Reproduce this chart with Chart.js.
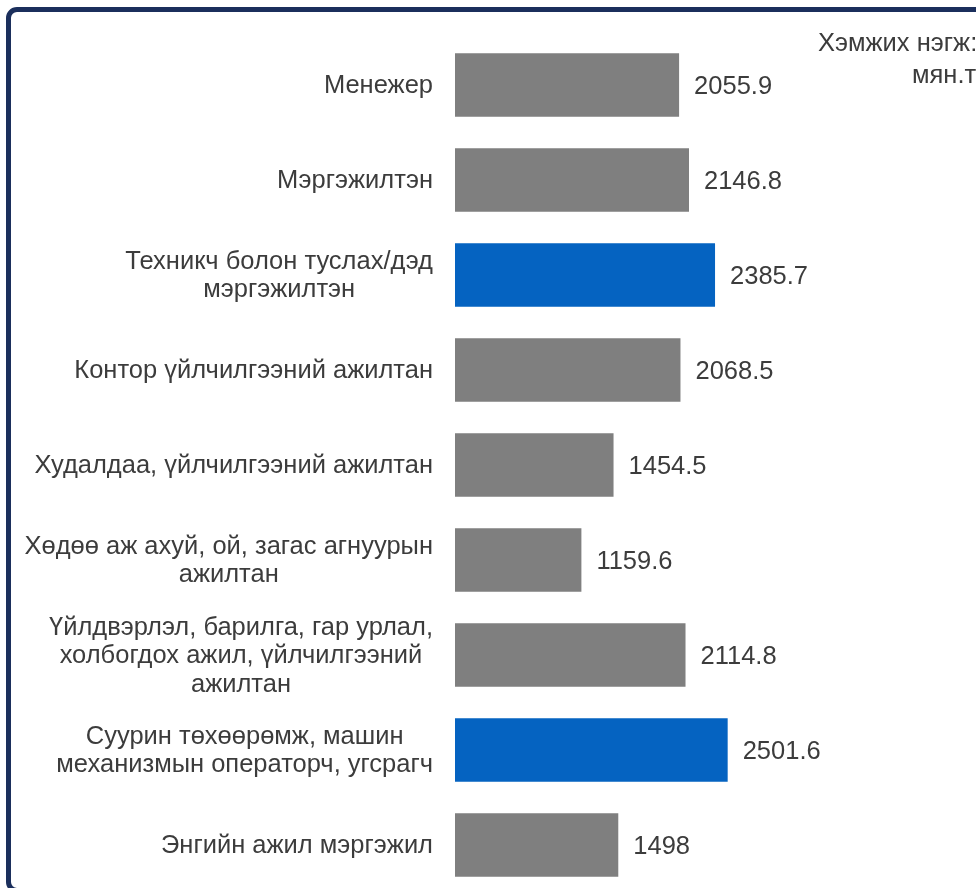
<!DOCTYPE html>
<html>
<head>
<meta charset="utf-8">
<script src="https://cdn.jsdelivr.net/npm/chart.js@4.4.1/dist/chart.umd.min.js"></script>
<style>
  html, body { margin: 0; padding: 0; background: #ffffff; overflow: hidden; width: 976px; height: 888px; }
  #wrap { position: relative; width: 976px; height: 888px; overflow: hidden; }
  #frame { position: absolute; left: 6px; top: 7px; width: 1010px; height: 886px; box-sizing: border-box;
           border: 5px solid #1b2f5c; border-radius: 11px; pointer-events: none; }
  canvas { position: absolute; left: 0; top: 0; }
</style>
</head>
<body>
<div id="wrap">
  <canvas id="c" width="976" height="900"></canvas>
  <div id="frame"></div>
</div>
<script>
const categories = [
  ['Менежер'],
  ['Мэргэжилтэн'],
  ['Техникч болон туслах/дэд', 'мэргэжилтэн'],
  ['Контор үйлчилгээний ажилтан'],
  ['Худалдаа, үйлчилгээний ажилтан'],
  ['Хөдөө аж ахуй, ой, загас агнуурын', 'ажилтан'],
  ['Үйлдвэрлэл, барилга, гар урлал,', 'холбогдох ажил, үйлчилгээний', 'ажилтан'],
  ['Суурин төхөөрөмж, машин', 'механизмын операторч, угсрагч'],
  ['Энгийн ажил мэргэжил']
];
const values = [2055.9, 2146.8, 2385.7, 2068.5, 1454.5, 1159.6, 2114.8, 2501.6, 1498];
const valueLabels = ['2055.9', '2146.8', '2385.7', '2068.5', '1454.5', '1159.6', '2114.8', '2501.6', '1498'];
const highlighted = [false, false, true, false, false, false, false, true, false];
const unitLines = ['Хэмжих нэгж:', 'мян.төгрөг'];

const GRAY = '#7f7f7f';
const BLUE = '#0563c1';
const TEXT = '#3c3c3c';
const FONT = '"Liberation Sans", Arial, sans-serif';

const labelPlugin = {
  id: 'labelPlugin',
  afterDatasetsDraw(chart) {
    const ctx = chart.ctx;
    const yScale = chart.scales.y;
    const area = chart.chartArea;
    const meta = chart.getDatasetMeta(0);
    ctx.save();
    ctx.fillStyle = TEXT;
    ctx.textBaseline = 'middle';
    // category labels (right-aligned block, centered lines)
    ctx.font = '25.5px ' + FONT;
    const lh = 28.5;
    categories.forEach((lines, i) => {
      const y = yScale.getPixelForValue(i);
      let w = 0;
      lines.forEach(l => { w = Math.max(w, ctx.measureText(l).width); });
      const right = area.left - 22;
      const cx = right - w / 2;
      ctx.textAlign = 'center';
      lines.forEach((l, k) => {
        ctx.fillText(l, cx, y + 1 + (k - (lines.length - 1) / 2) * lh);
      });
    });
    // value labels
    ctx.textAlign = 'left';
    meta.data.forEach((bar, i) => {
      ctx.fillText(valueLabels[i], bar.x + 15, bar.y + 2);
    });
    // unit note
    ctx.fillText(unitLines[0], 818, 44);
    ctx.fillText(unitLines[1], 912, 76);
    ctx.restore();
  }
};

new Chart(document.getElementById('c'), {
  type: 'bar',
  data: {
    labels: categories,
    datasets: [{
      data: values,
      backgroundColor: highlighted.map(h => h ? BLUE : GRAY),
      borderWidth: 0,
      barPercentage: 0.67,
      categoryPercentage: 1.0
    }]
  },
  options: {
    indexAxis: 'y',
    responsive: false,
    animation: false,
    layout: { padding: { left: 455, right: 85, top: 37.5, bottom: 7.5 } },
    plugins: { legend: { display: false }, tooltip: { enabled: false } },
    scales: {
      x: { display: false, min: 0, max: 4000 },
      y: { display: false, offset: true }
    }
  },
  plugins: [labelPlugin]
});
</script>
</body>
</html>
